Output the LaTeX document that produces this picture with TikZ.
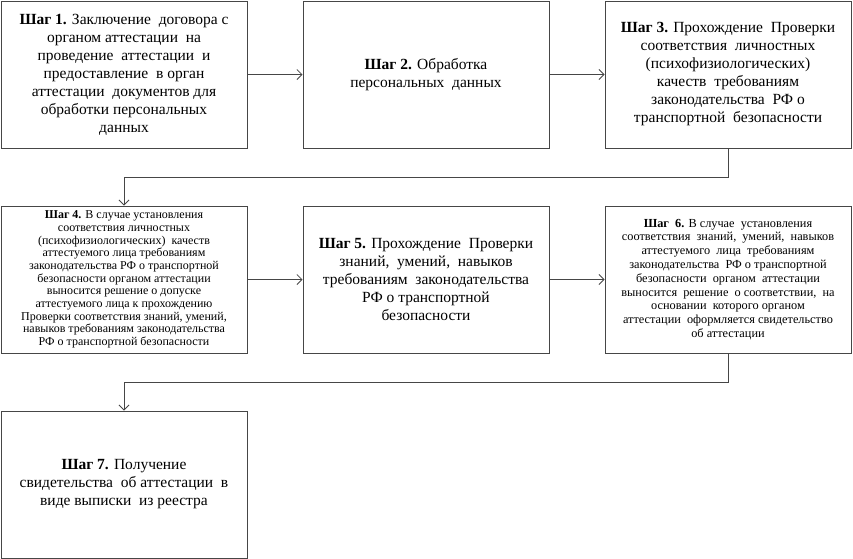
\documentclass[tikz,border=0pt]{standalone}
\usepackage{fontspec}
\setmainfont{Liberation Serif}
\usetikzlibrary{arrows.meta,positioning}
\definecolor{boxgray}{RGB}{70,70,70}
\newcommand{\stepno}[1]{\textbf{Шаг #1.}}

\begin{document}
\begin{tikzpicture}[x=1pt,y=-1pt,node distance=57pt and 55pt,box/.style={draw=boxgray,line width=1pt,align=center,minimum width=246pt,minimum height=147pt,inner sep=0pt},big/.style={font=\fontsize{15.5}{18}\selectfont},small/.style={font=\fontsize{12}{12.7}\selectfont},arr/.style={-{Straight Barb[length=5pt,width=10pt]},line width=0.8pt,draw=boxgray}]
\useasboundingbox (0,0) rectangle (853,558);
\node[box,big] (s1) at (124,74.5) {\stepno{1} Заключение~ договора с\\органом аттестации~ на\\проведение~ аттестации~ и\\предоставление~ в орган\\аттестации~ документов для\\обработки персональных\\данных};
\node[box,big,right=of s1] (s2) {\stepno{2} Обработка\\персональных~ данных};
\node[box,big,right=of s2] (s3) {\stepno{3} Прохождение~ Проверки\\соответствия~ личностных\\(психофизиологических)\\качеств~ требованиям\\законодательства~ РФ о\\транспортной~ безопасности};
\node[box,small,below=of s1] (s4) {\stepno{4} В случае установления\\соответствия личностных\\(психофизиологических)~ качеств\\аттестуемого лица требованиям\\законодательства РФ о транспортной\\безопасности органом аттестации\\выносится решение о допуске\\аттестуемого лица к прохождению\\Проверки соответствия знаний, умений,\\навыков требованиям законодательства\\РФ о транспортной безопасности};
\node[box,big,right=of s4] (s5) {\stepno{5} Прохождение~ Проверки\\знаний,~ умений,~ навыков\\требованиям~ законодательства\\РФ о транспортной\\безопасности};
\node[box,small,font=\fontsize{12.3}{13.8}\selectfont,right=of s5] (s6) {\textbf{Шаг~ 6.} В случае~ установления\\соответствия~ знаний,~ умений,~ навыков\\аттестуемого~ лица~ требованиям\\законодательства~ РФ о транспортной\\безопасности~ органом~ аттестации\\выносится~ решение~ о соответствии,~ на\\основании~ которого органом\\аттестации~ оформляется свидетельство\\об аттестации};
\node[box,big,below=of s4] (s7) {\stepno{7} Получение\\свидетельства~ об аттестации~ в\\виде выписки~ из реестра};
\draw[arr](s1)--(s2);\draw[arr](s2)--(s3);\draw[arr](s4)--(s5);\draw[arr](s5)--(s6);
\draw[arr](s3.south)--++(0,29)-|(s4.north);\draw[arr](s6.south)--++(0,29)-|(s7.north);
\end{tikzpicture}
\end{document}
